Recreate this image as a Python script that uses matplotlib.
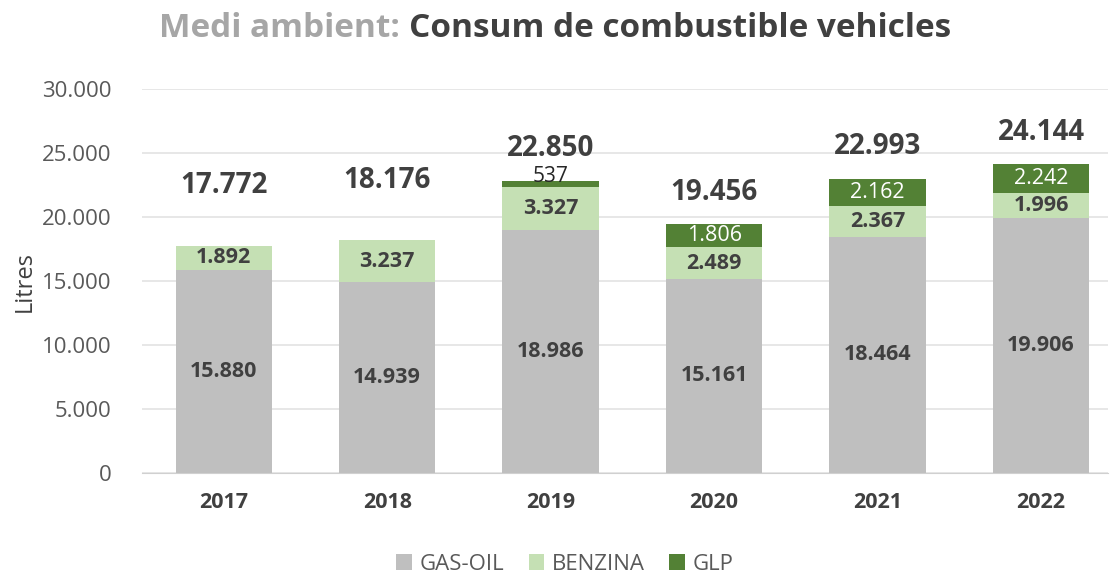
import matplotlib.pyplot as plt
import numpy as np

years = ['2017', '2018', '2019', '2020', '2021', '2022']
gasoil = [15880, 14939, 18986, 15161, 18464, 19906]
benzina = [1892, 3237, 3327, 2489, 2367, 1996]
glp = [0, 0, 537, 1806, 2162, 2242]
yticks = [0, 5000, 10000, 15000, 20000, 25000, 30000]


def fmt(v):
    return f'{v:,}'.replace(',', '.')


plt.rcParams['font.family'] = ['Open Sans', 'DejaVu Sans']

fig = plt.figure(figsize=(11.1, 5.73), dpi=100)
ax = fig.add_axes([142 / 1110, 100 / 573, 966 / 1110, 384 / 573])

x = np.arange(len(years))
w = 0.59
gasoil = np.array(gasoil)
benzina = np.array(benzina)
glp = np.array(glp)
total = gasoil + benzina + glp

b1 = ax.bar(x, gasoil, w, color='#BFBFBF', label='GAS-OIL', zorder=2)
b2 = ax.bar(x, benzina, w, bottom=gasoil, color='#C5E0B4', label='BENZINA', zorder=2)
b3 = ax.bar(x, glp, w, bottom=gasoil + benzina, color='#538135', label='GLP', zorder=2)

dark = '#404040'
for i in range(len(years)):
    ax.text(x[i], gasoil[i] / 2, fmt(gasoil[i]), ha='center', va='center',
            fontsize=15.5, fontweight='bold', color=dark, zorder=3)
    ax.text(x[i], gasoil[i] + benzina[i] / 2, fmt(benzina[i]), ha='center', va='center',
            fontsize=15.5, fontweight='bold', color=dark, zorder=3)
    if glp[i] > 1000:
        ax.text(x[i], gasoil[i] + benzina[i] + glp[i] / 2, fmt(glp[i]), ha='center',
                va='center', fontsize=15.5, color='white', zorder=3)
    elif glp[i] > 0:
        ax.annotate(fmt(glp[i]), (x[i], total[i]), xytext=(0, 3), textcoords='offset points',
                    ha='center', va='center', fontsize=15, color='#262626', zorder=3)
    off = 23 if glp[i] > 0 else 43
    ax.annotate(fmt(total[i]), (x[i], total[i]), xytext=(0, off), textcoords='offset points',
                ha='center', va='center', fontsize=20, fontweight='bold', color=dark, zorder=3)

ax.set_ylim(0, 30000)
ax.set_xlim(-0.5, 5.41)
ax.set_yticks(yticks)
ax.set_yticklabels([fmt(v) for v in yticks])
ax.set_xticks(x)
ax.set_xticklabels(years, fontweight='bold')
ax.tick_params(axis='y', labelsize=16, labelcolor='#595959', length=0, pad=22)
ax.tick_params(axis='x', labelsize=15.5, labelcolor=dark, length=0, pad=14)
ax.grid(axis='y', color='#E3E3E3', linewidth=1.2, zorder=0)
for s in ['top', 'right', 'left']:
    ax.spines[s].set_visible(False)
ax.spines['bottom'].set_color('#D0D0D0')
ax.set_ylabel('Litres', fontsize=17, color='#404040', labelpad=4)

split = 400 / 1110
fig.text(split, 0.951, 'Medi ambient:', ha='right', va='center', fontsize=24,
         fontweight='bold', color='#A6A6A6')
fig.text(split + 0.008, 0.951, 'Consum de combustible vehicles', ha='left', va='center',
         fontsize=24, fontweight='bold', color=dark)

fig.legend(handles=[b1, b2, b3], loc='center', bbox_to_anchor=(565 / 1110, 0.015), ncol=3,
           frameon=False, fontsize=16, handlelength=0.7, handleheight=0.7,
           handletextpad=0.35, columnspacing=1.1, labelcolor='#595959')

fig.savefig('out.png', dpi=100)
